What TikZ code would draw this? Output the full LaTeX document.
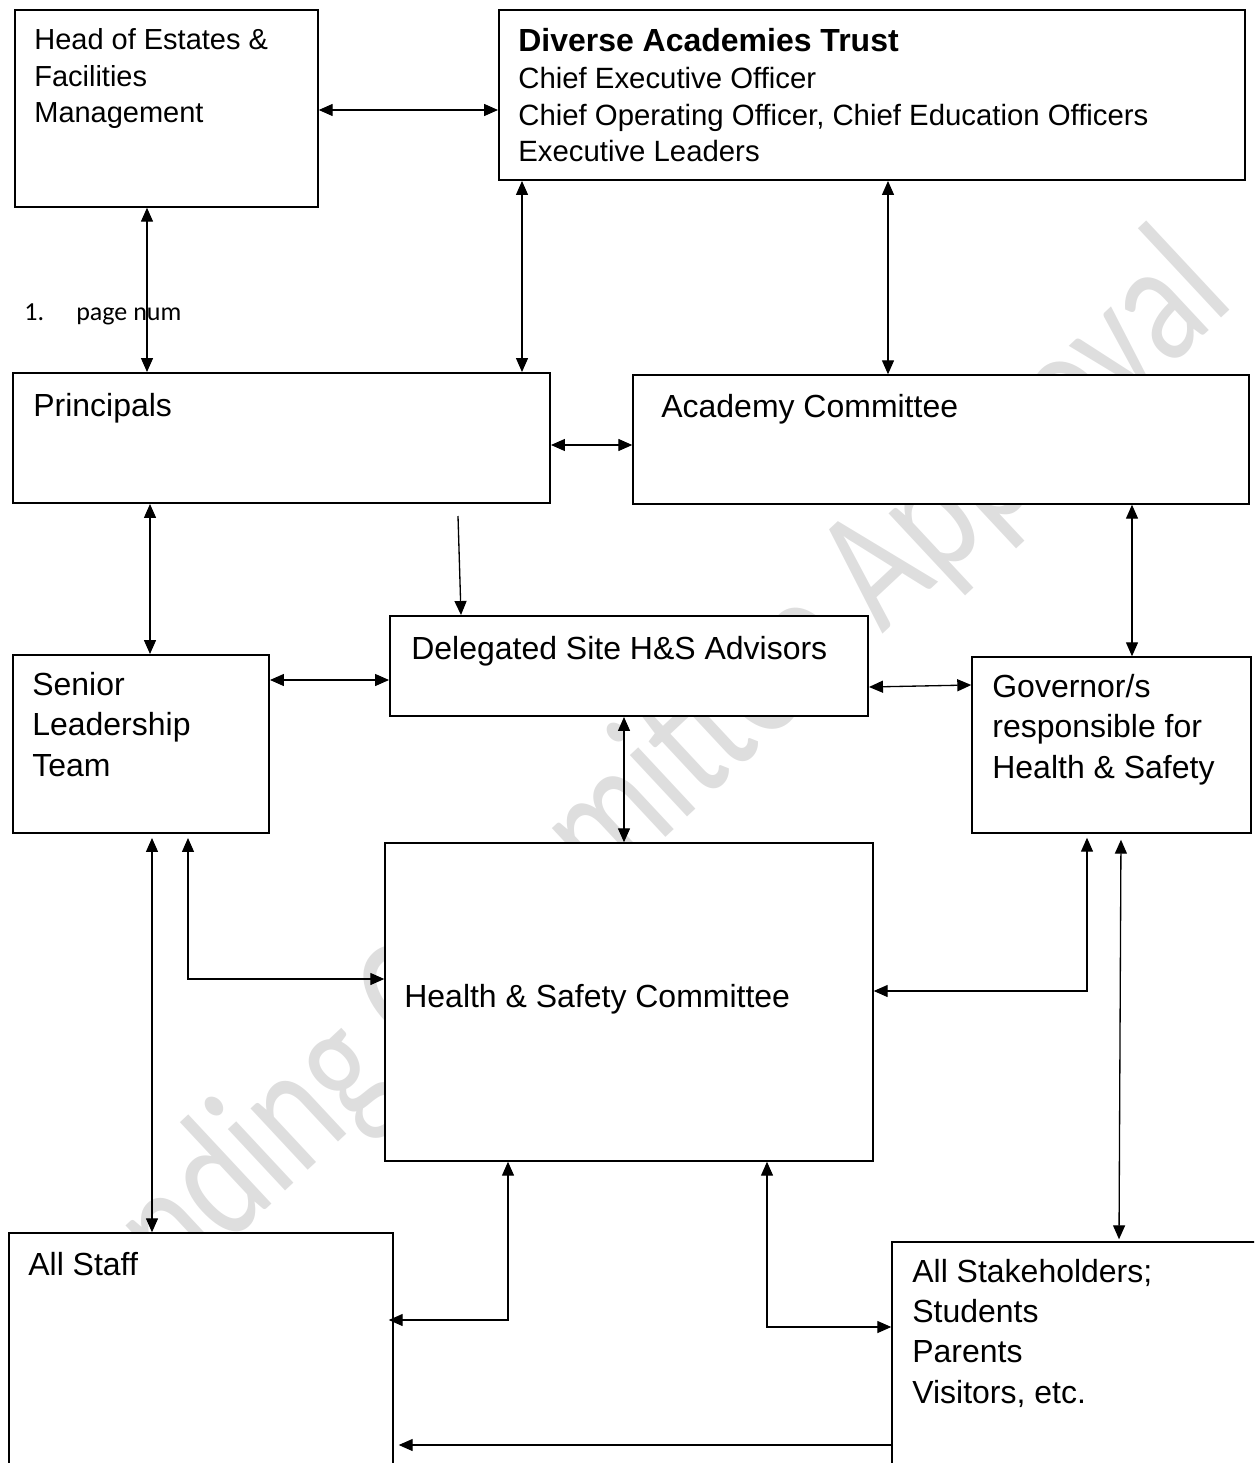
\documentclass[tikz,border=0pt]{standalone}
\usepackage{fontspec}
\setmainfont{Liberation Sans}
\newfontfamily\calibri{Carlito}
\usetikzlibrary{arrows.meta,fit}

\begin{document}
\begin{tikzpicture}[x=0.02cm,y=-0.02cm]
\tikzstyle{unit}=[draw, fill=white, inner sep=0pt, line width=0.8pt]
\tikzstyle{major}=[unit, line width=1.1pt]
\tikzstyle{txt}=[anchor=base west, inner sep=0pt, align=left,
	font=\fontsize{18.2pt}{22.8pt}\selectfont]
\tikzstyle{toptxt}=[txt, font=\fontsize{16.7pt}{21pt}\selectfont]
\tikzstyle{wmark}=[text=black!13, anchor=base west, inner sep=0pt, rotate=43, xscale=0.76,
	font=\calibri\fontsize{100pt}{110pt}\selectfont]
\tikzstyle{link}=[line width=0.75pt, >={Triangle[length=0.28cm,width=0.24cm]}]
\clip (0,0) rectangle (1254,1463);

% watermark
\node[wmark] (wm) at (79,1384) {Pending Committee Approval};
\node[anchor=base west, inner sep=0pt, font=\calibri\fontsize{14.8pt}{18pt}\selectfont]
	(pagenum) at (24,320) {\makebox[1.04cm][l]{1.}page num};

% boxes
\node[unit, fit={(15,10) (318,207)}] (estates) {};
\node[major, fit={(499,10) (1245,180)}] (trust) {};
\node[major, fit={(13,373) (550,503)}] (pr) {};
\node[unit, fit={(633,375) (1249,504)}] (ac) {};
\node[major, fit={(390,616) (868,716)}] (del) {};
\node[major, fit={(13,655) (269,833)}] (slt) {};
\node[unit, fit={(972,657) (1251,833)}] (gov) {};
\node[unit, fit={(385,843) (873,1161)}] (hsc) {};
\node[unit, fit={(9,1233) (393,1490)}] (staff) {};
\node[unit, fit={(892,1242) (1270,1490)}] (sh) {};

% labels (base = last line)
\node[toptxt, font=\fontsize{16.5pt}{21pt}\selectfont] (estatesT) at (34,123) {Head of Estates \&\\Facilities\\Management};
\node[toptxt] (trustT) at (518,162) {{\bfseries\fontsize{18.2pt}{21pt}\selectfont Diverse Academies Trust}\\
	Chief Executive Officer\\Chief Operating Officer, Chief Education Officers\\Executive Leaders};
\node[txt] (prT) at (33,416) {Principals};
\node[txt] (acT) at (661,417) {Academy Committee};
\node[txt] (delT) at (411,659) {Delegated Site H\&S Advisors};
\node[txt] (sltT) at (32,776) {Senior\\Leadership\\Team};
\node[txt] (govT) at (992,778) {Governor/s\\responsible for\\Health \& Safety};
\node[txt] (hscT) at (404,1007) {Health \& Safety Committee};
\node[txt] (staffT) at (28,1275) {All Staff};
\node[txt] (shT) at (912,1403) {All Stakeholders;\\Students\\Parents\\Visitors, etc.};

% connectors
\draw[link,<->] (estates.east |- 0,110) -- (trust.west |- 0,110);
\draw[link,<->] (estates.south -| 147,0) -- (pr.north -| 147,0);
\draw[link,<->] (trust.south -| 522,0) -- (pr.north -| 522,0);
\draw[link,<->] (trust.south -| 888,0) -- (ac.north -| 888,0);
\draw[link,<->] (pr.east |- 0,445) -- (ac.west |- 0,445);
\draw[link,<->] (pr.south -| 150,0) -- (slt.north -| 150,0);
\coordinate (prfoot) at (458,516);
\draw[link,->] (prfoot) -- (del.north -| 461,0);
\draw[link,<->] (ac.south -| 1132,0) -- (gov.north -| 1132,0);
\draw[link,<->] (slt.east |- 0,680) -- (del.west |- 0,680);
\draw[link,<->] (del.east |- 0,687) -- (gov.west |- 0,685);
\draw[link,<->] (del.south -| 624,0) -- (hsc.north -| 624,0);
\draw[link,<->, shorten <=0.08cm] (slt.south -| 152,0) -- (staff.north -| 152,0);
\draw[link,<->, shorten <=0.08cm] (slt.south -| 188,0) |- (hsc.west |- 0,979);
\draw[link,<->, shorten <=0.08cm] (gov.south -| 1087,0) |- (hsc.east |- 0,991);
\draw[link,<->, shorten <=0.12cm, shorten >=0.04cm] (gov.south -| 1121,0) -- (sh.north -| 1119,0);
\draw[link,<->, shorten >=-0.1cm] (hsc.south -| 508,0) |- (staff.east |- 0,1320);
\draw[link,<->] (hsc.south -| 767,0) |- (sh.west |- 0,1327);
\draw[link,->, shorten >=0.1cm] (sh.west |- 0,1445) -- (staff.east |- 0,1445);
\end{tikzpicture}
\end{document}
